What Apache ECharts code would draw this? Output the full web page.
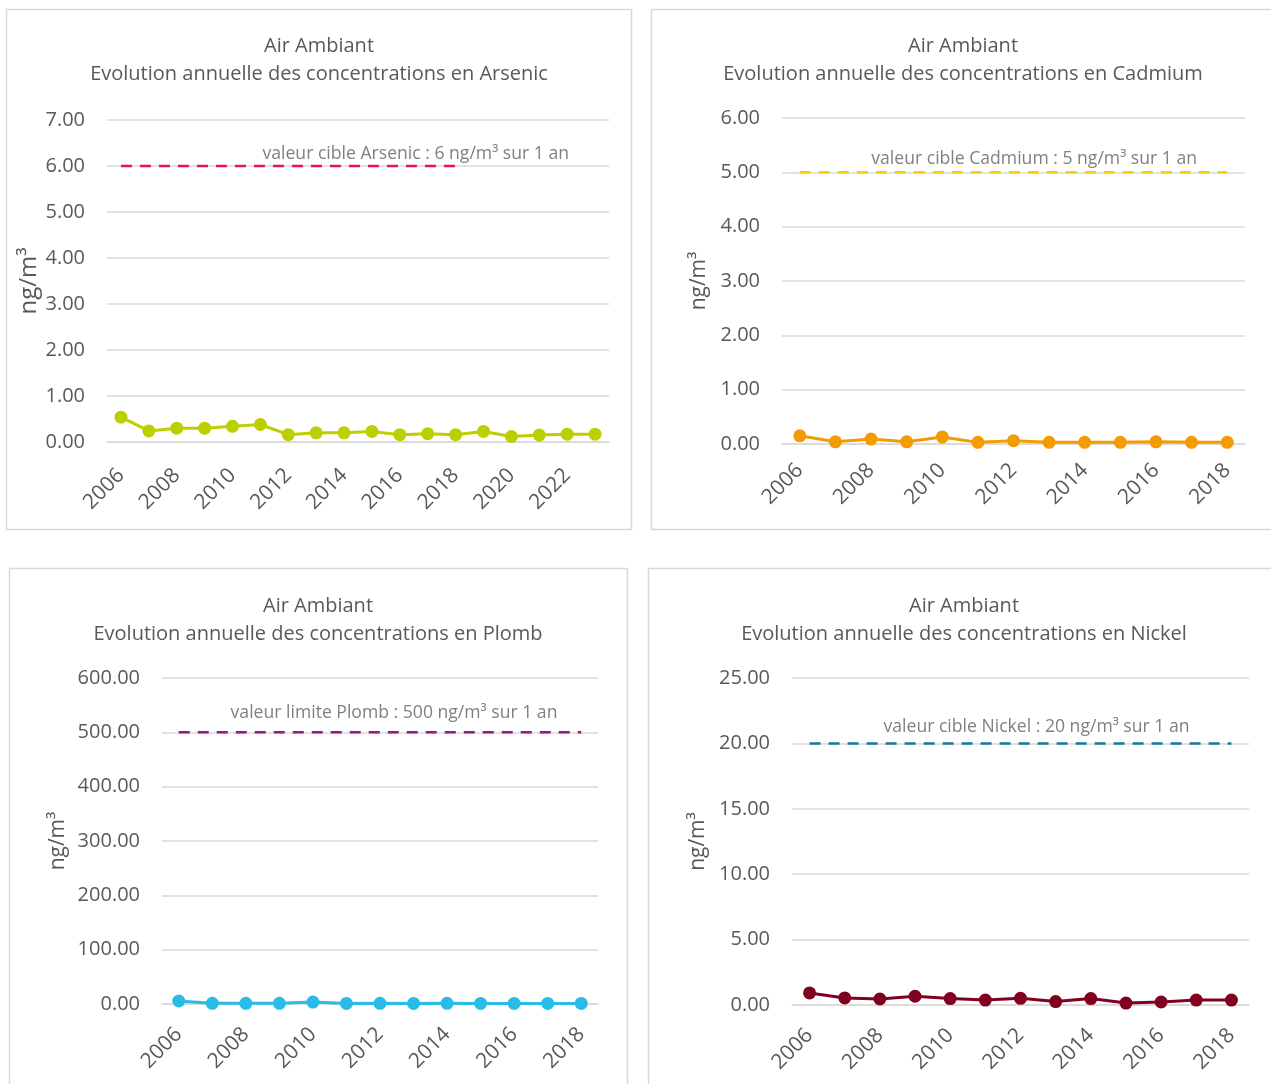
<!DOCTYPE html>
<html>
<head>
<meta charset="utf-8">
<script src="https://cdn.jsdelivr.net/npm/echarts@6/dist/echarts.min.js"></script>
<style>
html,body{margin:0;padding:0;background:#fff;}
#c{width:1271px;height:1084px;}
</style>
</head>
<body>
<div id="c"></div>
<script>
// ---- data ----
const yearsArsenic = ['2006','2007','2008','2009','2010','2011','2012','2013','2014','2015','2016','2017','2018','2019','2020','2021','2022','2023'];
const yearsMetals = ['2006','2007','2008','2009','2010','2011','2012','2013','2014','2015','2016','2017','2018'];

const arsenic = [0.54,0.24,0.30,0.30,0.34,0.38,0.16,0.20,0.20,0.23,0.16,0.18,0.16,0.23,0.12,0.15,0.17,0.17];
const arsenicTarget = [6,6,6,6,6,6,6,6,6,6,6,6,6];

const cadmium = [0.15,0.04,0.09,0.04,0.13,0.03,0.06,0.03,0.03,0.03,0.04,0.03,0.03];
const cadmiumTarget = [5,5,5,5,5,5,5,5,5,5,5,5,5];

const plomb = [5.5,1.2,1.2,1.2,3.5,1.0,1.2,1.0,1.3,1.0,1.0,1.0,1.0];
const plombLimit = [500,500,500,500,500,500,500,500,500,500,500,500,500];

const nickel = [0.92,0.54,0.46,0.67,0.49,0.38,0.51,0.26,0.49,0.15,0.23,0.38,0.38];
const nickelTarget = [20,20,20,20,20,20,20,20,20,20,20,20,20];

const titles = [
  'Air Ambiant\nEvolution annuelle des concentrations en Arsenic',
  'Air Ambiant\nEvolution annuelle des concentrations en Cadmium',
  'Air Ambiant\nEvolution annuelle des concentrations en Plomb',
  'Air Ambiant\nEvolution annuelle des concentrations en Nickel'
];
const targetLabels = [
  'valeur cible Arsenic : 6 ng/m³ sur 1 an',
  'valeur cible Cadmium : 5 ng/m³ sur 1 an',
  'valeur limite Plomb : 500 ng/m³ sur 1 an',
  'valeur cible Nickel : 20 ng/m³ sur 1 an'
];
const yName = 'ng/m³';

// ---- layout / style ----
const FONT = '"Open Sans", sans-serif';
const TXT = '#595959';
const GRIDC = '#d9d9d9';

const panels = [
  {box:[6,9,625,520], title:[314,27], grid:{left:107,top:120,width:502,height:322}, y:{min:0,max:7,interval:1}, nameGap:65, nameSize:24, xMargin:30,
   cats:yearsArsenic, data:arsenic, target:arsenicTarget, color:'#bccf00', tcolor:'#e8154a', lblIdx:11, lblOff:[-12,0], lblDist:2},
  {box:[651,9,640,520], title:[958,27], grid:{left:782,top:118,width:463,height:326}, y:{min:0,max:6,interval:1}, nameGap:72, nameSize:21, xMargin:23,
   cats:yearsMetals, data:cadmium, target:cadmiumTarget, color:'#f39c00', tcolor:'#ffcc00', lblIdx:7, lblOff:[-15,0], lblDist:3},
  {box:[9,568,618,540], title:[313,587], grid:{left:162,top:678,width:436,height:326}, y:{min:0,max:600,interval:100}, nameGap:93, nameSize:21, xMargin:27,
   cats:yearsMetals, data:plomb, target:plombLimit, color:'#29bce8', tcolor:'#98187f', lblIdx:6, lblOff:[14,0], lblDist:9},
  {box:[648,568,640,540], title:[959,587], grid:{left:792,top:678,width:457,height:327}, y:{min:0,max:25,interval:5}, nameGap:83, nameSize:21, xMargin:27,
   cats:yearsMetals, data:nickel, target:nickelTarget, color:'#800020', tcolor:'#16789a', lblIdx:6, lblOff:[16,0], lblDist:6}
];

const option = {
  backgroundColor:'#fff',
  animation:false,
  textStyle:{fontFamily:FONT},
  title: panels.map((p,i)=>({
    text: titles[i], left:p.title[0], top:p.title[1], textAlign:'center',
    textStyle:{fontFamily:FONT, fontSize:20, fontWeight:'normal', color:TXT, lineHeight:28}
  })),
  graphic: panels.map(p=>({
    type:'rect', shape:{x:p.box[0]+0.5,y:p.box[1]+0.5,width:p.box[2],height:p.box[3]},
    style:{fill:null, stroke:GRIDC, lineWidth:1.5}, silent:true, z:-1
  })),
  grid: panels.map(p=>Object.assign({containLabel:false}, p.grid)),
  xAxis: panels.map((p,i)=>({
    type:'category', gridIndex:i, data:p.cats, boundaryGap:true,
    axisLine:{show:true, lineStyle:{color:GRIDC, width:1.5}},
    axisTick:{show:false},
    axisLabel:{rotate:45, interval:1, color:TXT, fontSize:21, fontFamily:FONT, margin:p.xMargin}
  })),
  yAxis: panels.map((p,i)=>({
    type:'value', gridIndex:i, min:p.y.min, max:p.y.max, interval:p.y.interval,
    name:yName, nameLocation:'middle', nameGap:p.nameGap,
    nameTextStyle:{color:TXT, fontSize:p.nameSize, fontFamily:FONT},
    axisLine:{show:false}, axisTick:{show:false},
    splitLine:{lineStyle:{color:GRIDC, width:1.5}},
    axisLabel:{color:TXT, fontSize:20, fontFamily:FONT, margin:22, formatter:v=>v.toFixed(2)}
  })),
  series: []
};

panels.forEach((p,i)=>{
  option.series.push({
    type:'line', xAxisIndex:i, yAxisIndex:i, z:3,
    data: p.target.map((v,k)=> k===p.lblIdx ? {value:v, label:{show:true, position:'top', distance:p.lblDist, offset:p.lblOff,
        formatter:targetLabels[i], color:'#808080', fontSize:17.6, fontFamily:FONT}} : v),
    symbol:'circle', symbolSize:2, showSymbol:true, showAllSymbol:true,
    itemStyle:{color:'rgba(0,0,0,0)', borderWidth:0},
    lineStyle:{color:p.tcolor, width:2.5, type:[11,8]}, silent:true
  });
  option.series.push({
    type:'line', xAxisIndex:i, yAxisIndex:i, z:4,
    data:p.data, symbol:'circle', symbolSize:13,
    itemStyle:{color:p.color}, lineStyle:{color:p.color, width:3}
  });
});

const chart = echarts.init(document.getElementById('c'), null, {renderer:'canvas'});
chart.setOption(option);
</script>
</body>
</html>
